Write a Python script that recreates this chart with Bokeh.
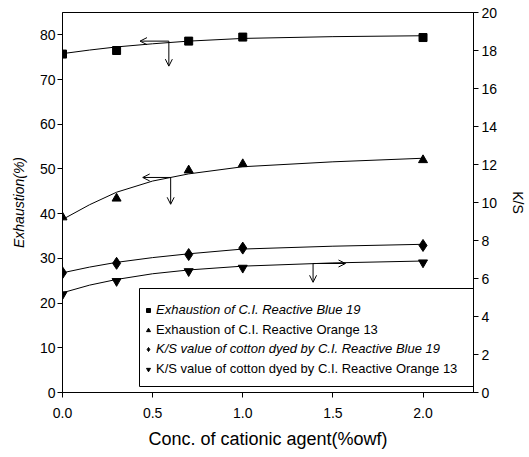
from bokeh.plotting import figure
from bokeh.models import (Range1d, LinearAxis, FixedTicker, Legend, LegendItem,
                          Arrow, OpenHead, BoxAnnotation, NumeralTickFormatter)
from bokeh.embed import file_html
from bokeh.resources import INLINE

# ---- data ----
conc = [0.0, 0.3, 0.7, 1.0, 2.0]
exh_blue19 = [75.7, 76.5, 78.6, 79.5, 79.4]      # Exhaustion (%) - left axis
exh_orange13 = [39.2, 43.4, 49.7, 51.1, 52.0]    # Exhaustion (%) - left axis
ks_blue19 = [6.3, 6.8, 7.26, 7.6, 7.74]          # K/S - right axis
ks_orange13 = [5.16, 5.86, 6.38, 6.56, 6.84]     # K/S - right axis

# fitted curves
fit_x = [0.0, 0.15, 0.3, 0.5, 0.7, 1.0, 1.5, 2.0]
fit_exh_blue19 = [75.8, 76.6, 77.3, 78.0, 78.6, 79.2, 79.6, 79.8]
fit_exh_orange13 = [38.7, 42.0, 44.8, 47.3, 48.9, 50.5, 51.6, 52.4]
fit_ks_blue19 = [6.3, 6.6, 6.85, 7.1, 7.3, 7.55, 7.7, 7.8]
fit_ks_orange13 = [5.25, 5.65, 5.95, 6.25, 6.45, 6.65, 6.82, 6.92]

x_ticks = [0.0, 0.5, 1.0, 1.5, 2.0]
left_ticks = [0, 10, 20, 30, 40, 50, 60, 70, 80]
right_ticks = [0, 2, 4, 6, 8, 10, 12, 14, 16, 18, 20]

labels = ["Exhaustion of C.I. Reactive Blue 19",
          "Exhaustion of C.I. Reactive Orange 13",
          "K/S value of cotton dyed by C.I. Reactive Blue 19",
          "K/S value of cotton dyed by C.I. Reactive Orange 13"]
label_styles = ["italic", "normal", "italic", "normal"]

FONT = "Liberation Sans"

p = figure(width=529, height=457, output_backend="svg", toolbar_location=None,
           x_range=Range1d(0, 2.28), y_range=Range1d(0, 85),
           min_border_left=62, min_border_right=49, min_border_top=12,
           min_border_bottom=65)
p.extra_y_ranges = {"ks": Range1d(0, 20)}
p.grid.visible = False
p.outline_line_color = "black"
p.outline_line_width = 1
p.background_fill_color = "white"
p.border_fill_color = "white"

def style_axis(ax):
    ax.axis_line_color = "black"
    ax.major_tick_out = 5
    ax.major_tick_in = 0
    ax.minor_tick_out = 0
    ax.minor_tick_in = 0
    ax.major_label_text_font = FONT
    ax.major_label_text_font_size = "14px"
    ax.major_label_text_color = "black"
    ax.axis_label_text_font = FONT
    ax.axis_label_text_color = "black"

xa = p.xaxis[0]
style_axis(xa)
xa.ticker = FixedTicker(ticks=x_ticks)
xa.formatter = NumeralTickFormatter(format="0.0")
xa.axis_label = "Conc. of cationic agent(%owf)"
xa.axis_label_text_font_size = "18px"
xa.axis_label_text_font_style = "normal"
xa.major_label_standoff = 10
xa.axis_label_standoff = 8

ya = p.yaxis[0]
style_axis(ya)
ya.ticker = FixedTicker(ticks=left_ticks)
ya.axis_label = "Exhaustion(%)"
ya.axis_label_text_font_size = "14px"
ya.axis_label_text_font_style = "italic"
ya.major_label_standoff = 2
ya.axis_label_standoff = 10

ra = LinearAxis(y_range_name="ks")
style_axis(ra)
ra.ticker = FixedTicker(ticks=right_ticks)
ra.axis_label = "K/S"
ra.axis_label_text_font_size = "14px"
ra.axis_label_text_font_style = "normal"
ra.major_label_standoff = 3
ra.axis_label_standoff = 10
p.add_layout(ra, "right")

# fitted curves
p.line(fit_x, fit_exh_blue19, line_color="black", line_width=1)
p.line(fit_x, fit_exh_orange13, line_color="black", line_width=1)
p.line(fit_x, fit_ks_blue19, line_color="black", line_width=1, y_range_name="ks")
p.line(fit_x, fit_ks_orange13, line_color="black", line_width=1, y_range_name="ks")

r1 = p.scatter(conc, exh_blue19, marker="square", size=8, color="black")
r2 = p.scatter(conc, exh_orange13, marker="triangle", size=9, color="black")
r3 = p.scatter(conc, ks_blue19, marker="diamond", size=12, color="black", y_range_name="ks")
r4 = p.scatter(conc, ks_orange13, marker="inverted_triangle", size=9, color="black", y_range_name="ks")

# axis-indicating arrows (positions)
arrow_specs = [
    # (x_start, y_start, x_end, y_end, range)
    (0.59, 78.6, 0.43, 78.6, "default"),
    (0.59, 78.6, 0.59, 73.0, "default"),
    (0.60, 48.1, 0.445, 48.1, "default"),
    (0.60, 48.1, 0.60, 42.1, "default"),
    (1.39, 6.79, 1.57, 6.79, "ks"),
    (1.39, 6.79, 1.39, 5.8, "ks"),
]
for xs, ys, xe, ye, rn in arrow_specs:
    p.add_layout(Arrow(x_start=xs, y_start=ys, x_end=xe, y_end=ye,
                       y_range_name=rn, line_color="black", line_width=1,
                       end=OpenHead(size=7, line_color="black", line_width=1)))

# legend: frame + one borderless legend per entry (mixed italic/normal)
renderers = [r1, r2, r3, r4]
box = BoxAnnotation(left=77, right=415, top=104, bottom=6,
                    left_units="screen", right_units="screen",
                    top_units="screen", bottom_units="screen",
                    fill_alpha=0, fill_color=None,
                    line_color="black", line_width=1, line_alpha=1)
p.add_layout(box)

for i, (r, lab, st) in enumerate(zip(renderers, labels, label_styles)):
    lg = Legend(items=[LegendItem(label=lab, renderers=[r])],
                location=(81, 75 - round(i * 19.6)),
                border_line_alpha=0, background_fill_alpha=0,
                padding=0, margin=0, spacing=0,
                glyph_width=10, glyph_height=14, label_height=14,
                label_standoff=3,
                label_text_font=FONT, label_text_font_size="13px",
                label_text_font_style=st, label_text_color="black")
    p.add_layout(lg, "center")

open("out.html", "w").write(file_html(p, INLINE))
